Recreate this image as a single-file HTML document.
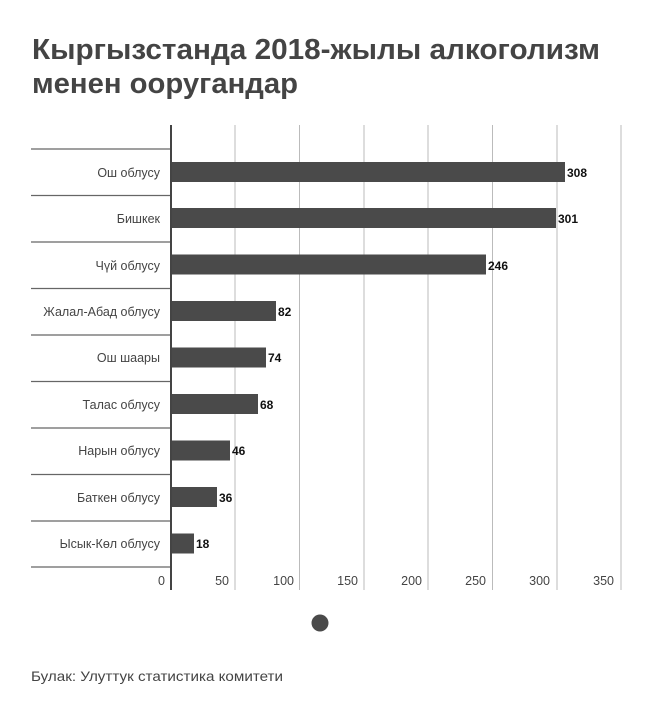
<!DOCTYPE html>
<html><head><meta charset="utf-8"><style>
body{margin:0;background:#fff;width:660px;height:718px;overflow:hidden;font-family:"Liberation Sans",sans-serif}
</style></head><body>
<svg width="660" height="718" xmlns="http://www.w3.org/2000/svg" font-family="Liberation Sans, sans-serif">
<text x="32" y="59" font-size="28.5" font-weight="bold" fill="#444" textLength="568" lengthAdjust="spacingAndGlyphs">Кыргызстанда 2018-жылы алкоголизм</text>
<text x="32" y="93" font-size="28.5" font-weight="bold" fill="#444" textLength="266" lengthAdjust="spacingAndGlyphs">менен ооругандар</text>
<g stroke="#bbb" stroke-width="1">
<line x1="235" y1="125" x2="235" y2="590"/><line x1="299.5" y1="125" x2="299.5" y2="590"/>
<line x1="364" y1="125" x2="364" y2="590"/><line x1="428" y1="125" x2="428" y2="590"/>
<line x1="492.5" y1="125" x2="492.5" y2="590"/><line x1="557" y1="125" x2="557" y2="590"/>
<line x1="621" y1="125" x2="621" y2="590"/>
</g>
<g stroke="#666" stroke-width="1.2">
<line x1="31" y1="149" x2="171" y2="149"/><line x1="31" y1="195.5" x2="171" y2="195.5"/>
<line x1="31" y1="242" x2="171" y2="242"/><line x1="31" y1="288.5" x2="171" y2="288.5"/>
<line x1="31" y1="335" x2="171" y2="335"/><line x1="31" y1="381.5" x2="171" y2="381.5"/>
<line x1="31" y1="428" x2="171" y2="428"/><line x1="31" y1="474.5" x2="171" y2="474.5"/>
<line x1="31" y1="521" x2="171" y2="521"/><line x1="31" y1="567" x2="171" y2="567"/>
</g>
<g fill="#4a4a4a">
<rect x="171" y="162" width="394" height="20"/>
<rect x="171" y="208" width="385" height="20"/>
<rect x="171" y="254.5" width="315" height="20"/>
<rect x="171" y="301" width="105" height="20"/>
<rect x="171" y="347.5" width="95" height="20"/>
<rect x="171" y="394" width="87" height="20"/>
<rect x="171" y="440.5" width="59" height="20"/>
<rect x="171" y="487" width="46" height="20"/>
<rect x="171" y="533.5" width="23" height="20"/>
</g>
<line x1="171" y1="125" x2="171" y2="590" stroke="#444" stroke-width="2"/>
<g font-size="12.5" fill="#444" text-anchor="end">
<text x="160" y="177">Ош облусу</text><text x="160" y="223">Бишкек</text>
<text x="160" y="270">Чүй облусу</text><text x="160" y="316">Жалал-Абад облусу</text>
<text x="160" y="362">Ош шаары</text><text x="160" y="409">Талас облусу</text>
<text x="160" y="455">Нарын облусу</text><text x="160" y="502">Баткен облусу</text>
<text x="160" y="548">Ысык-Көл облусу</text>
</g>
<g font-size="12" font-weight="bold" fill="#111">
<text x="567" y="177">308</text><text x="558" y="223">301</text><text x="488" y="270">246</text>
<text x="278" y="316">82</text><text x="268" y="362">74</text><text x="260" y="409">68</text>
<text x="232" y="455">46</text><text x="219" y="502">36</text><text x="196" y="548">18</text>
</g>
<g font-size="12.5" fill="#444" text-anchor="end">
<text x="165" y="585">0</text><text x="229" y="585">50</text><text x="294" y="585">100</text>
<text x="358" y="585">150</text><text x="422" y="585">200</text><text x="486" y="585">250</text>
<text x="550" y="585">300</text><text x="614" y="585">350</text>
</g>
<circle cx="320" cy="623" r="8.5" fill="#4a4a4a"/>
<text x="31" y="681" font-size="14" fill="#444" textLength="252" lengthAdjust="spacingAndGlyphs">Булак: Улуттук статистика комитети</text>
</svg>
</body></html>
